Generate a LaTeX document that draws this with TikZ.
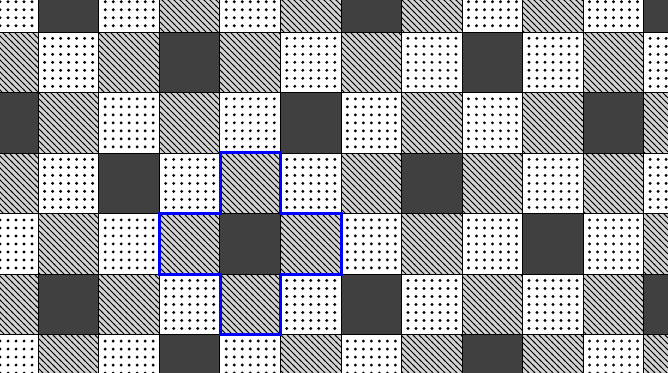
\documentclass[tikz,border=0pt]{standalone}
\usetikzlibrary{patterns}

% diagonal hatching used inside the grey cells
\pgfdeclarepatternformonly{cellhatch}{\pgfqpoint{-1pt}{-1pt}}{\pgfqpoint{7pt}{7pt}}{\pgfqpoint{6pt}{6pt}}{%
  \pgfsetlinewidth{1pt}%
  \pgfpathmoveto{\pgfqpoint{-1pt}{7pt}}\pgfpathlineto{\pgfqpoint{7pt}{-1pt}}%
  \pgfusepath{stroke}}

\begin{document}
\begin{tikzpicture}[
  x=1pt, y=-1pt,
  cellline/.style={draw=black, line width=1pt},
  darkcell/.style={cellline, fill=black!75},
  hatchcell/.style={cellline, preaction={fill=black!17}, pattern=cellhatch},
  dotcell/.style={cellline, fill=white},
  dotmark/.style={fill=black},
  crossline/.style={draw=blue, line width=3pt, line join=miter},
]
  \useasboundingbox (0,0) rectangle (668,372);
  \clip (0,0) rectangle (668,372);

  % cell size and origin of the grid
  \def\cs{60.55}
  \def\xo{-22.25}
  \def\yo{-28.55}

  % dark cells on a 5-periodic lattice, the rest alternate
  \foreach \r in {0,...,6} {
    \foreach \c in {0,...,11} {
      \pgfmathtruncatemacro\k{mod(\c-2*\r+20,5)}
      \pgfmathtruncatemacro\p{mod(\r+\c,2)}
      \pgfmathsetmacro\xa{\xo+\c*\cs}
      \pgfmathsetmacro\ya{\yo+\r*\cs}
      \ifnum\k=1
        \path[darkcell] (\xa,\ya) rectangle ++(\cs,\cs);
      \else\ifnum\p=1
        \path[hatchcell] (\xa,\ya) rectangle ++(\cs,\cs);
      \else
        \path[dotcell] (\xa,\ya) rectangle ++(\cs,\cs);
        \foreach \i in {0,...,6}
          \foreach \j in {0,...,6}
            \path[dotmark] (\xa+6.3+8*\i, \ya+6.3+8*\j) circle (1.6pt);
      \fi\fi
    }
  }

  % outline of the plus shape
  \coordinate (ctr) at (250.4,243.75);
  \draw[crossline] (ctr) ++(-30.27,-90.82)
    -- ++(60.55,0) -- ++(0,60.55) -- ++(60.55,0) -- ++(0,60.55)
    -- ++(-60.55,0) -- ++(0,60.55) -- ++(-60.55,0) -- ++(0,-60.55)
    -- ++(-60.55,0) -- ++(0,-60.55) -- ++(60.55,0) -- cycle;
\end{tikzpicture}
\end{document}
